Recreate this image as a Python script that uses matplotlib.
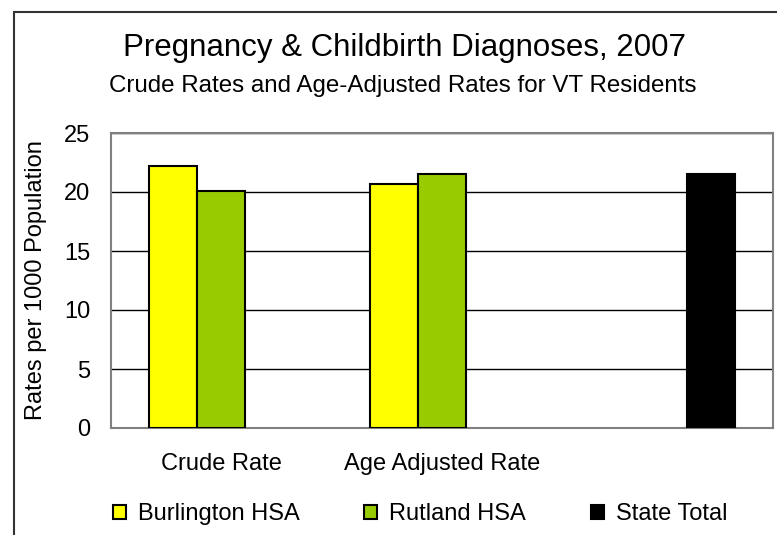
import numpy as np
import matplotlib
matplotlib.use('Agg')
import matplotlib.pyplot as plt
from matplotlib.patches import Rectangle

plt.rcParams['font.family'] = ['Liberation Sans', 'DejaVu Sans']

categories = ['Crude Rate', 'Age Adjusted Rate', '']
series_names = ['Burlington HSA', 'Rutland HSA', 'State Total']
burlington = [22.2, 20.7, np.nan]
rutland = [20.1, 21.5, np.nan]
state_total = [np.nan, np.nan, 21.5]
colors = ['#FFFF00', '#99CC00', '#000000']

fig = plt.figure(figsize=(7.77, 5.35), dpi=100)
ax = fig.add_axes([111/777, 1 - 428/535, 662/777, 295/535])

x = np.arange(len(categories))
w = 0.2175
for i, (vals, name, c) in enumerate(zip([burlington, rutland, state_total], series_names, colors)):
    ax.bar(x + (i - 1) * w, vals, w, color=c, edgecolor='black', linewidth=1.5,
           label=name, zorder=3)

ax.set_xlim(-0.5, 2.5)
ax.set_ylim(0, 25)
ax.set_yticks([0, 5, 10, 15, 20, 25])
ax.yaxis.grid(True, color='black', linewidth=1.0, zorder=0)
ax.set_axisbelow(True)
ax.set_xticks(x)
ax.set_xticklabels(categories, fontsize=17)
ax.tick_params(axis='x', length=0, pad=18)
ax.tick_params(axis='y', length=0, pad=15, labelsize=17)
for s in ax.spines.values():
    s.set_color('#808080')
    s.set_linewidth(1.5)
ax.set_ylabel('Rates per 1000 Population', fontsize=17, labelpad=12)

fig.text(405/777, 1 - 48/535, 'Pregnancy & Childbirth Diagnoses, 2007',
         ha='center', va='center', fontsize=22.5)
fig.text(403/777, 1 - 86/535, 'Crude Rates and Age-Adjusted Rates for VT Residents',
         ha='center', va='center', fontsize=17.4)

fig.legend(loc='center', bbox_to_anchor=(420/777, 1 - 514/535), ncol=3,
           frameon=False, fontsize=17, handlelength=0.55, handleheight=0.55,
           handletextpad=0.5, columnspacing=2.75)

# outer chart border
fig.patches.append(Rectangle((14/777, -0.05), 1.0, 1 - 12/535 + 0.05,
                             transform=fig.transFigure, fill=False,
                             edgecolor='#333333', linewidth=1.5))

fig.savefig('out.png', dpi=100)
